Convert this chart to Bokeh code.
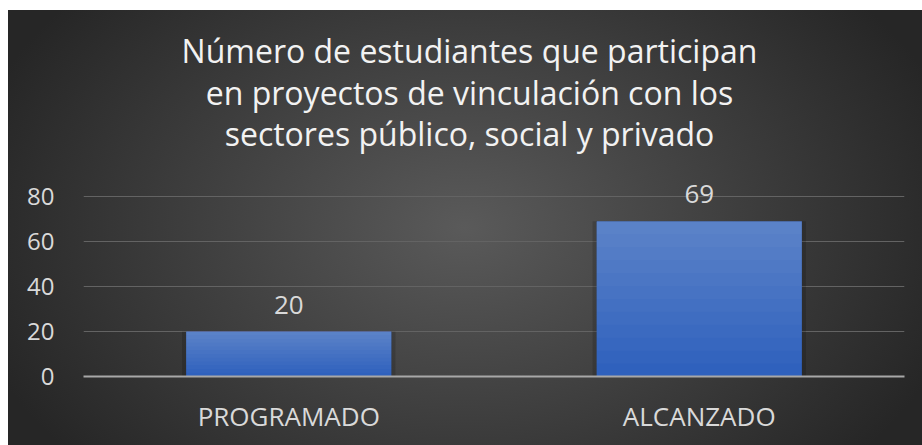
from bokeh.plotting import figure
from bokeh.models import Label, FixedTicker, ColumnDataSource, FactorRange, Range1d
from bokeh.core.properties import value
from bokeh.embed import file_html
from bokeh.resources import INLINE

categories = ["PROGRAMADO", "ALCANZADO"]
values = [20, 69]
y_ticks = [0, 20, 40, 60, 80]
title_lines = [
    "Número de estudiantes que participan",
    "en proyectos de vinculación con los",
    "sectores público, social y privado",
]

FONT = "Open Sans"
TXT = "#d9d9d9"
W, H = 914, 435

p = figure(
    width=W, height=H,
    x_range=FactorRange(*categories, range_padding=0),
    y_range=Range1d(0, 366 / 2.25),
    output_backend="svg", toolbar_location=None,
    min_border_left=75, min_border_right=18, min_border_bottom=69, min_border_top=0,
    background_fill_color=None, border_fill_color=None, outline_line_color=None,
    styles={
        "margin": "10px 0 0 8px",
        "background": "radial-gradient(ellipse 56% 82% at 50% 50%, #5a5a5a 0%, #262626 100%)",
    },
)
p.x_range.range_padding = 0

for line, yb in zip(title_lines, [40, 82, 123]):
    p.add_layout(Label(x=461, y=yb, x_units="canvas", y_units="canvas", text=line,
                       text_align="center", text_baseline="alphabetic",
                       text_font=FONT, text_font_size="32px", text_color="#f2f2f2"))

src = ColumnDataSource(dict(x=categories, top=values, label=[str(v) for v in values]))

# subtle shadow
p.vbar(x="x", top="top", width=0.52, source=src, fill_color="black", fill_alpha=0.15, line_color=None)
# base bar
p.vbar(x="x", top="top", width=0.5, source=src, fill_color="#2f61bd", line_color=None)
# lightening overlays toward the top
N = 12
for k in range(1, N):
    bottoms = [v * k / N for v in values]
    s = ColumnDataSource(dict(x=categories, top=values, bottom=bottoms))
    p.vbar(x="x", top="top", bottom="bottom", width=0.5, source=s,
           fill_color="white", fill_alpha=0.025, line_color=None)

p.text(x="x", y="top", text="label", source=src, text_align="center",
       text_baseline="alphabetic", y_offset=-27, text_font=value(FONT),
       text_font_size="26px", text_color=TXT)

p.xgrid.grid_line_color = None
p.ygrid.grid_line_color = "#636363"
p.ygrid.grid_line_width = 1
p.yaxis.ticker = FixedTicker(ticks=y_ticks)

p.yaxis.axis_line_color = None
p.yaxis.major_tick_line_color = None
p.yaxis.minor_tick_line_color = None
p.yaxis.major_label_text_font = FONT
p.yaxis.major_label_text_font_size = "24px"
p.yaxis.major_label_text_color = TXT
p.yaxis.major_label_standoff = 23

p.xaxis.axis_line_color = "#a8a8a8"
p.xaxis.axis_line_width = 2
p.xaxis.major_tick_line_color = None
p.xaxis.minor_tick_line_color = None
p.xaxis.major_label_text_font = FONT
p.xaxis.major_label_text_font_size = "26px"
p.xaxis.major_label_text_color = TXT
p.xaxis.major_label_standoff = 15

open("out.html", "w").write(file_html(p, INLINE))
